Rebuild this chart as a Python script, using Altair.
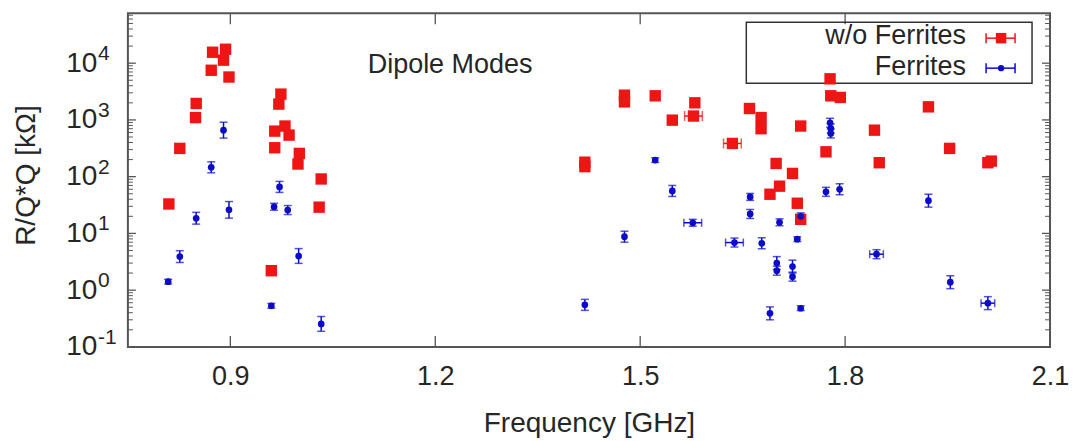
import altair as alt
import pandas as pd

# ---------------- data ----------------
red_freq = [0.810, 0.826, 0.849, 0.850, 0.872, 0.874, 0.890, 0.893, 0.898,
            0.960, 0.965, 0.965, 0.971, 0.974, 0.980, 0.986, 0.999, 1.001, 1.030, 1.033,
            1.419, 1.419, 1.477, 1.477, 1.522, 1.547, 1.578, 1.580, 1.635, 1.660,
            1.677, 1.677, 1.690, 1.699, 1.704, 1.723, 1.730, 1.735, 1.735, 1.772,
            1.778, 1.779, 1.793, 1.843, 1.850, 1.922, 1.953, 2.009, 2.014]
red_val = [33, 315, 1100, 1950, 7500, 15600, 11300, 17600, 5700,
           2.2, 323, 635, 1900, 2850, 780, 540, 167, 257, 29, 91,
           180, 150, 2730, 2080, 2660, 990, 1170, 2000, 385, 1590,
           1100, 700, 49, 171, 68, 114, 34, 17.7, 780, 274,
           5300, 2660, 2490, 660, 176, 1700, 315, 176, 188]
red_xerr = [0, 0, 0, 0, 0, 0, 0, 0, 0,
            0, 0, 0, 0, 0, 0, 0, 0, 0, 0, 0,
            0, 0, 0, 0, 0, 0, 0.013, 0, 0.013, 0,
            0, 0, 0, 0, 0, 0, 0, 0, 0, 0,
            0, 0, 0, 0, 0, 0, 0, 0, 0]

blue_freq = [0.809, 0.826, 0.850, 0.872, 0.890, 0.898, 0.960, 0.964, 0.972, 0.984,
             1.000, 1.033, 1.419, 1.477, 1.522, 1.547, 1.577, 1.638, 1.661, 1.661,
             1.678, 1.690, 1.700, 1.700, 1.704, 1.723, 1.723, 1.730, 1.735, 1.735,
             1.772, 1.778, 1.779, 1.779, 1.792, 1.846, 1.922, 1.954, 2.009]
blue_val = [1.41, 3.9, 18.5, 146, 660, 26, 0.53, 29.5, 66, 25.8,
            4.0, 0.254, 0.55, 8.75, 196, 56, 15.4, 6.9, 44, 22,
            6.7, 0.39, 3.0, 2.2, 15.7, 2.6, 1.73, 7.9, 20, 0.48,
            54, 890, 708, 578, 60, 4.3, 37.7, 1.38, 0.59]
blue_err = [1.1, 1.27, 1.27, 1.25, 1.38, 1.4, 1.1, 1.15, 1.25, 1.2,
            1.35, 1.35, 1.25, 1.25, 1.1, 1.25, 1.15, 1.2, 1.15, 1.2,
            1.25, 1.3, 1.3, 1.2, 1.15, 1.3, 1.2, 1.1, 1.15, 1.1,
            1.2, 1.2, 1.2, 1.2, 1.25, 1.2, 1.3, 1.3, 1.3]
blue_xerr = [0, 0, 0, 0, 0, 0, 0, 0, 0, 0,
             0, 0, 0, 0, 0, 0, 0.013, 0.013, 0, 0,
             0, 0, 0, 0, 0, 0, 0, 0, 0, 0,
             0, 0, 0, 0, 0, 0.01, 0, 0, 0.01]

x_ticks = [0.9, 1.2, 1.5, 1.8, 2.1]
y_ticks = [0.1, 1, 10, 100, 1000, 10000]
y_exps = ["-1", "0", "1", "2", "3", "4"]
y_minor = [m * 10 ** k for k in range(-1, 5) for m in range(2, 10) if m * 10 ** k < 76000]

# ---------------- styling ----------------
W, H = 923, 334
FONT = "Liberation Sans"
RED = "#ee1515"
BLUE = "#0c0cc8"
TXT = "#262626"
FRAME = "#555555"

red = pd.DataFrame({"f": red_freq, "v": red_val, "xe": red_xerr})
red["flo"] = red["f"] - red["xe"]
red["fhi"] = red["f"] + red["xe"]
redx = red[red["xe"] > 0]

blue = pd.DataFrame({"f": blue_freq, "v": blue_val, "e": blue_err, "xe": blue_xerr})
blue["lo"] = blue["v"] / blue["e"]
blue["hi"] = blue["v"] * blue["e"]
blue["flo"] = blue["f"] - blue["xe"]
blue["fhi"] = blue["f"] + blue["xe"]
bluex = blue[blue["xe"] > 0]

yticks_df = pd.DataFrame({"t": y_ticks, "e": y_exps})
yminor_df = pd.DataFrame({"t": y_minor})
xticks_df = pd.DataFrame({"t": x_ticks})
one = pd.DataFrame({"a": [0]})

xscale = alt.Scale(domain=[0.75, 2.1], nice=False, zero=False)
yscale = alt.Scale(type="log", domain=[0.1, 76000], nice=False)

xaxis = alt.Axis(values=x_ticks, format=".1f", ticks=False, domain=False, grid=False,
                 labelFontSize=27, labelPadding=17, labelFlush=False, labelOverlap=False,
                 labelColor=TXT, labelFont=FONT,
                 title="Frequency [GHz]", titleFontSize=28, titleFont=FONT,
                 titleFontWeight="normal", titleColor=TXT, titleY=85,
                 titleBaseline="alphabetic")
yaxis = alt.Axis(values=y_ticks, labelExpr="'10'", ticks=False, domain=False, grid=False,
                 labelFontSize=28, labelPadding=31, labelColor=TXT, labelFont=FONT,
                 labelBaseline="middle", labelOverlap=False, labelFlush=False,
                 title="R/Q*Q [kΩ]", titleFontSize=28, titleFont=FONT,
                 titleFontWeight="normal", titleColor=TXT, titleX=-101, titleY=H / 2 - 5,
                 titleAngle=270, titleAlign="center", titleBaseline="middle")


def X(field):
    return alt.X(field, type="quantitative", scale=xscale, axis=xaxis)


def Y(field):
    return alt.Y(field, type="quantitative", scale=yscale, axis=yaxis)


# error bars
blue_vbar = alt.Chart(blue).mark_rule(color=BLUE, strokeWidth=1.5).encode(
    x=X("f"), y=Y("lo"), y2="hi")
blue_cap_lo = alt.Chart(blue).mark_point(shape="M-1,0L1,0", size=64, filled=False,
                                         color=BLUE, strokeWidth=1.5).encode(x=X("f"), y=Y("lo"))
blue_cap_hi = alt.Chart(blue).mark_point(shape="M-1,0L1,0", size=64, filled=False,
                                         color=BLUE, strokeWidth=1.5).encode(x=X("f"), y=Y("hi"))
blue_hbar = alt.Chart(bluex).mark_rule(color=BLUE, strokeWidth=1.5).encode(
    x=X("flo"), x2="fhi", y=Y("v"))
blue_hcap1 = alt.Chart(bluex).mark_point(shape="M0,-1L0,1", size=64, filled=False,
                                         color=BLUE, strokeWidth=1.5).encode(x=X("flo"), y=Y("v"))
blue_hcap2 = alt.Chart(bluex).mark_point(shape="M0,-1L0,1", size=64, filled=False,
                                         color=BLUE, strokeWidth=1.5).encode(x=X("fhi"), y=Y("v"))
red_hbar = alt.Chart(redx).mark_rule(color=RED, strokeWidth=1.5).encode(
    x=X("flo"), x2="fhi", y=Y("v"))
red_hcap1 = alt.Chart(redx).mark_point(shape="M0,-1L0,1", size=100, filled=False,
                                       color=RED, strokeWidth=1.5).encode(x=X("flo"), y=Y("v"))
red_hcap2 = alt.Chart(redx).mark_point(shape="M0,-1L0,1", size=100, filled=False,
                                       color=RED, strokeWidth=1.5).encode(x=X("fhi"), y=Y("v"))

red_pts = alt.Chart(red).mark_point(shape="square", size=130, filled=True, opacity=1,
                                    color=RED).encode(x=X("f"), y=Y("v"))
blue_pts = alt.Chart(blue).mark_point(shape="circle", size=45, filled=True, opacity=1,
                                      color=BLUE).encode(x=X("f"), y=Y("v"))

# inward ticks on all four sides
yt_left = alt.Chart(yticks_df).mark_rule(color=FRAME, strokeWidth=1.3).encode(
    y=Y("t"), x=alt.value(0), x2=alt.value(8))
yt_right = alt.Chart(yticks_df).mark_rule(color=FRAME, strokeWidth=1.3).encode(
    y=Y("t"), x=alt.value(W), x2=alt.value(W - 8))
ym_left = alt.Chart(yminor_df).mark_rule(color=FRAME, strokeWidth=1).encode(
    y=Y("t"), x=alt.value(0), x2=alt.value(5))
ym_right = alt.Chart(yminor_df).mark_rule(color=FRAME, strokeWidth=1).encode(
    y=Y("t"), x=alt.value(W), x2=alt.value(W - 5))
xt_bot = alt.Chart(xticks_df).mark_rule(color=FRAME, strokeWidth=1.3).encode(
    x=X("t"), y=alt.value(H), y2=alt.value(H - 11))
xt_top = alt.Chart(xticks_df).mark_rule(color=FRAME, strokeWidth=1.3).encode(
    x=X("t"), y=alt.value(0), y2=alt.value(11))

# exponents of the y tick labels
y_exp = alt.Chart(yticks_df).mark_text(align="left", baseline="middle", dy=-9,
                                       fontSize=21, font=FONT, color=TXT).encode(
    y=Y("t"), x=alt.value(-30), text="e:N")

# annotation
dipole = alt.Chart(one).mark_text(text="Dipole Modes", align="left", baseline="alphabetic",
                                  fontSize=27, font=FONT, color=TXT).encode(
    x=alt.value(240), y=alt.value(60))

# legend (text left of symbols, boxed)
leg_box = alt.Chart(one).mark_rect(fill="transparent", stroke="#333333", strokeWidth=1.5).encode(
    x=alt.value(619), x2=alt.value(905), y=alt.value(9), y2=alt.value(70))
leg_t1 = alt.Chart(one).mark_text(text="w/o Ferrites", align="right", baseline="alphabetic",
                                  fontSize=27, font=FONT, color=TXT).encode(
    x=alt.value(839), y=alt.value(31))
leg_t2 = alt.Chart(one).mark_text(text="Ferrites", align="right", baseline="alphabetic",
                                  fontSize=27, font=FONT, color=TXT).encode(
    x=alt.value(839), y=alt.value(62))
leg_r_line = alt.Chart(one).mark_rule(color=RED, strokeWidth=1.5).encode(
    x=alt.value(859), x2=alt.value(888), y=alt.value(25))
leg_r_c1 = alt.Chart(one).mark_rule(color=RED, strokeWidth=1.5).encode(
    x=alt.value(859), y=alt.value(20), y2=alt.value(30))
leg_r_c2 = alt.Chart(one).mark_rule(color=RED, strokeWidth=1.5).encode(
    x=alt.value(888), y=alt.value(20), y2=alt.value(30))
leg_r_sym = alt.Chart(one).mark_point(shape="square", size=110, filled=True, opacity=1,
                                      color=RED).encode(x=alt.value(874), y=alt.value(25))
leg_b_line = alt.Chart(one).mark_rule(color=BLUE, strokeWidth=1.5).encode(
    x=alt.value(859), x2=alt.value(888), y=alt.value(55))
leg_b_c1 = alt.Chart(one).mark_rule(color=BLUE, strokeWidth=1.5).encode(
    x=alt.value(859), y=alt.value(50), y2=alt.value(60))
leg_b_c2 = alt.Chart(one).mark_rule(color=BLUE, strokeWidth=1.5).encode(
    x=alt.value(888), y=alt.value(50), y2=alt.value(60))
leg_b_sym = alt.Chart(one).mark_point(shape="circle", size=40, filled=True, opacity=1,
                                      color=BLUE).encode(x=alt.value(874), y=alt.value(55))

chart = alt.layer(
    ym_left, ym_right, yt_left, yt_right, xt_bot, xt_top,
    leg_box,
    blue_vbar, blue_cap_lo, blue_cap_hi, blue_hbar, blue_hcap1, blue_hcap2,
    red_hbar, red_hcap1, red_hcap2,
    red_pts, blue_pts,
    y_exp, dipole,
    leg_t1, leg_t2,
    leg_r_line, leg_r_c1, leg_r_c2, leg_r_sym,
    leg_b_line, leg_b_c1, leg_b_c2, leg_b_sym,
).properties(
    width=W, height=H,
    autosize=alt.AutoSizeParams(type="none"),
    padding={"left": 120, "top": 5, "right": 20, "bottom": 92},
    background="white",
).configure_view(
    stroke=FRAME, strokeWidth=2
)

chart.save("out.html", embed_options={"renderer": "svg", "actions": False})
